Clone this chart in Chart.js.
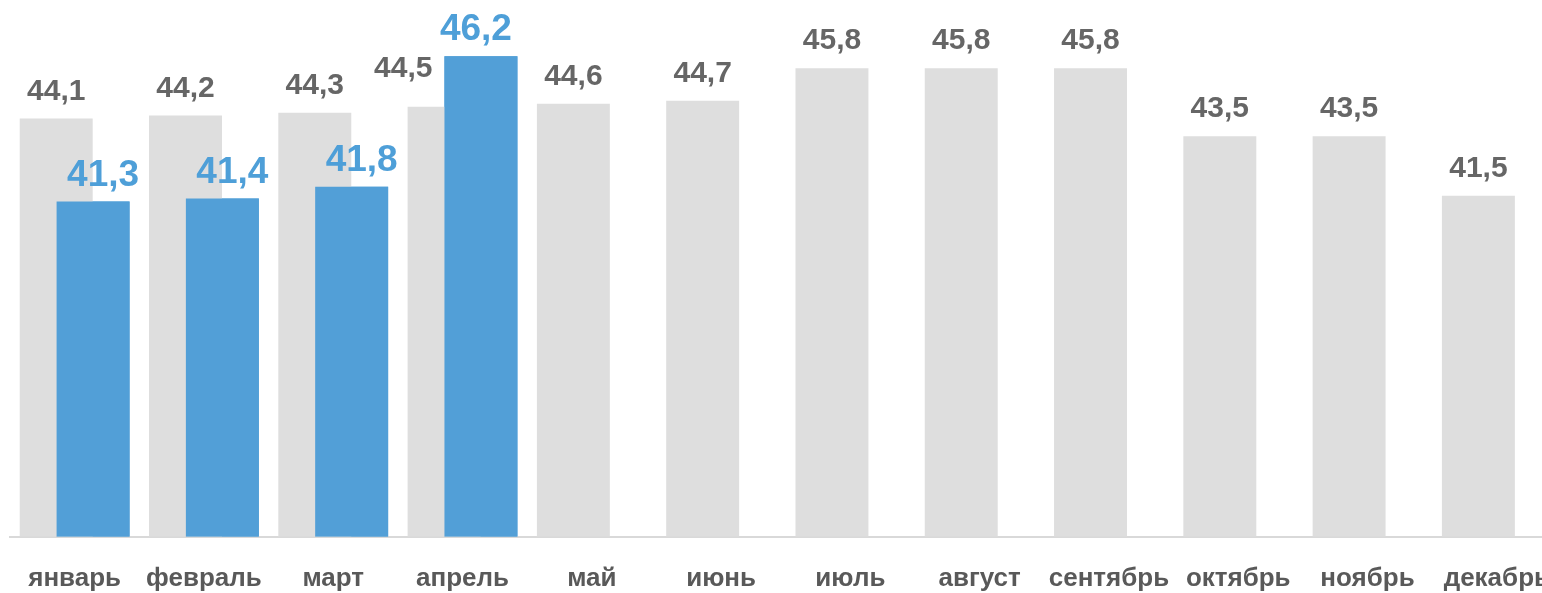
<!DOCTYPE html>
<html>
<head>
<meta charset="utf-8">
<script src="https://cdn.jsdelivr.net/npm/chart.js@4/dist/chart.umd.min.js"></script>
<style>
  html, body { margin: 0; padding: 0; background: #fff; overflow: hidden; }
  #wrap { width: 1542px; height: 593px; overflow: hidden; }
  #myChart { display: block; }
</style>
</head>
<body>
<div id="wrap"><canvas id="myChart" width="1577" height="593"></canvas></div>
<script>
/*--------------------------------------------------------------------------------
----- DATA
--------------------------------------------------------------------------------*/

const months = ['январь', 'февраль', 'март', 'апрель', 'май', 'июнь',
                'июль', 'август', 'сентябрь', 'октябрь', 'ноябрь', 'декабрь'];

const prevYear = [44.1, 44.2, 44.3, 44.5, 44.6, 44.7, 45.8, 45.8, 45.8, 43.5, 43.5, 41.5];
const thisYear = [41.3, 41.4, 41.8, 46.2, null, null, null, null, null, null, null, null];

const GRAY = '#DEDEDE';
const BLUE = '#529FD7';
const FONT = '"Liberation Sans", Arial, sans-serif';

const fmt = v => v.toFixed(1).replace('.', ',');


// blue bars sit in the right slot but must be painted over the gray ones
const blueOnTop = {
  id: 'blueOnTop',
  afterDatasetsDraw(chart) {
    const a = chart.chartArea;
    const c = chart.ctx;
    c.save();
    c.beginPath();
    c.rect(a.left, a.top, a.right - a.left, a.bottom - a.top);
    c.clip();
    chart.getDatasetMeta(1).controller.draw();
    c.restore();
  }
};

// value labels above the bars
const valueLabels = {
  id: 'valueLabels',
  afterDatasetsDraw(chart) {
    const c = chart.ctx;
    const grayMeta = chart.getDatasetMeta(0);
    const blueMeta = chart.getDatasetMeta(1);
    c.save();
    c.textBaseline = 'alphabetic';

    c.font = 'bold 30px ' + FONT;
    c.fillStyle = '#666666';
    grayMeta.data.forEach((bar, i) => {
      const b = thisYear[i];
      if (b !== null && b > prevYear[i]) {
        // blue bar is taller here, move the label to the left of it
        const bb = blueMeta.data[i];
        c.textAlign = 'right';
        c.fillText(fmt(prevYear[i]), bb.x - bb.width / 2 - 12, bar.y - 30);
      } else {
        c.textAlign = 'center';
        c.fillText(fmt(prevYear[i]), bar.x, bar.y - 19);
      }
    });

    c.font = 'bold 37px ' + FONT;
    c.fillStyle = '#4E9FD8';
    c.textAlign = 'center';
    blueMeta.data.forEach((bar, i) => {
      if (thisYear[i] === null) return;
      // labels sitting over a taller gray bar are nudged right, as in the original
      const dx = thisYear[i] < prevYear[i] ? 10 : -5;
      c.fillText(fmt(thisYear[i]), bar.x + dx, bar.y - 16);
    });
    c.restore();
  }
};


const ctx = document.getElementById('myChart');

new Chart(ctx, {
  type: 'bar',
  data: {
    labels: months,
    datasets: [{
      label: 'prev',
      data: prevYear,
      backgroundColor: GRAY,
      borderWidth: 0
    }, {
      label: 'current',
      data: thisYear,
      backgroundColor: BLUE,
      borderWidth: 0
    }]
  },
  options: {
    responsive: false,
    animation: false,
    devicePixelRatio: 1,
    categoryPercentage: 0.57,
    barPercentage: 1.98,
    layout: { padding: { left: 10, right: 0, top: 0, bottom: 0 } },
    plugins: {
      legend: { display: false },
      tooltip: { enabled: false }
    },
    scales: {
      x: {
        grid: { display: false, drawTicks: false },
        border: { display: true, color: '#D9D9D9', width: 2 },
        ticks: {
          color: '#595959',
          padding: 27,
          maxRotation: 0,
          autoSkip: false,
          font: { family: FONT, size: 26, weight: 'bold' }
        },
        afterFit(scale) { scale.height = 56.5; }
      },
      y: {
        display: false,
        min: 30,
        max: 48.1
      }
    }
  },
  plugins: [blueOnTop, valueLabels]
});
</script>
</body>
</html>
